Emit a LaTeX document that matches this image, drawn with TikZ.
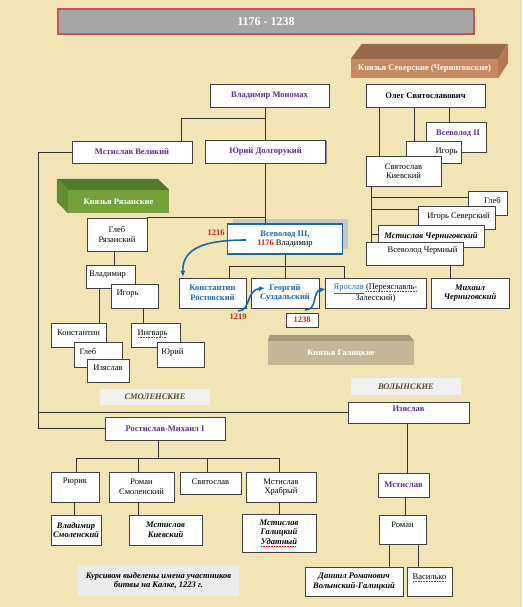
\documentclass[tikz,border=0pt]{standalone}
\usepackage{fontspec}
\setmainfont{Liberation Serif}
\usepackage{tikz}
\usetikzlibrary{shadows,arrows.meta}

\definecolor{bg}{RGB}{241,229,181}
\definecolor{purp}{RGB}{95,45,145}
\definecolor{blu}{RGB}{25,105,170}
\definecolor{red2}{RGB}{200,35,30}
\definecolor{olv}{RGB}{85,75,35}
\definecolor{ttl}{RGB}{195,85,75}
\definecolor{sevf}{RGB}{198,138,98}
\definecolor{sevt}{RGB}{150,105,75}
\definecolor{sevs}{RGB}{180,120,82}
\definecolor{ryzf}{RGB}{118,160,58}
\definecolor{ryzt}{RGB}{82,122,42}
\definecolor{ryzs}{RGB}{98,140,48}
\definecolor{galf}{RGB}{196,183,150}
\definecolor{galt}{RGB}{165,154,124}
\newcommand{\fsz}{\fontsize{8.5}{9.5}\selectfont}
\newsavebox{\wvbox}
\newcommand{\wv}[1]{\sbox\wvbox{#1}\rlap{\color{red}\raisebox{-1.8pt}{\hbox to \wd\wvbox{\leaders\hbox to 1.6pt{\hss\rule{0.8pt}{0.5pt}\hss}\hfill}}}\usebox\wvbox}

\begin{document}
\begin{tikzpicture}[x=1pt,y=-1pt,
  wh/.style 2 args={minimum width=#1pt,minimum height=#2pt},
  plain/.style={draw=black!75,fill=white,line width=0.6pt,inner sep=1pt,align=center,font=\fsz},
  box/.style={plain,drop shadow={shadow xshift=1pt,shadow yshift=-1pt,fill=black!45,opacity=1}},
  tl/.style={font=\fsz,inner sep=0pt,anchor=north,yshift=-6.5pt},
  pb/.style={font=\fsz\bfseries,text=purp},
  bb/.style={font=\fsz\bfseries,text=blu},
  bi/.style={font=\fsz\bfseries\itshape},
  yr/.style={font=\fsz\bfseries,text=red2},
  tag/.style={fill=black!6,font=\fsz\bfseries\itshape,text=olv},
  slab/.style={text=white,font=\fsz\bfseries,inner sep=0pt},
  ln/.style={draw=black!80,line width=0.8pt},
  arr/.style={-{Latex[length=6pt,width=5pt]},draw=blu,line width=1.6pt}]

    \fill[bg] (0,0) rectangle (522,607);
    \useasboundingbox (0,0) rectangle (522,607);

    \node[fill=black!35,draw=ttl,line width=1.2pt,wh={416}{25},text=white,font=\fontsize{12}{14}\selectfont\bfseries] (0) at (266,21.5) {1176 - 1238};

    % 3d headers
    \node[slab,fill=sevf,wh={147}{19}] (44) at (424.5,68.5) {Князья Северские (Черниговские)};
    \fill[sevt] (44.north west) -- ++(11,-15) -- ++(146,0) -- (44.north east) -- cycle;
    \fill[sevs] (44.north east) -- ++(10,-15) -- ++(0,19) -- (44.south east) -- cycle;
    \node[slab,fill=ryzf,wh={101}{23}] (45) at (118.5,201.5) {Князья Рязанские};
    \fill[ryzt] (45.north west) -- ++(-11,-11) -- ++(101,0) -- (45.north east) -- cycle;
    \fill[ryzs] (45.north west) -- ++(-11,-11) -- ++(0,23) -- (45.south west) -- cycle;
    \node[slab,fill=galf,wh={146}{24}] (46) at (341,353) {Князья Галицкие};
    \fill[galt] (46.north west) -- ++(2,-6) -- ++(139,0) -- (46.north east) -- cycle;

    \node[box,wh={119}{23},pb] (1) at (269.5,95.5) {Владимир Мономах};
    \node[box,wh={119}{23},font=\fsz\bfseries] (2) at (425.5,95.5) {Олег Святославович};
    \node[box,wh={120}{22},pb] (3) at (132,152) {Мстислав Великий};
    \node[box,wh={120}{23},pb] (4) at (265.5,151.5) {Юрий Долгорукий};

    \node[box,wh={60}{30},label={[tl,pb,xshift=2pt,yshift=-1.5pt]north:Всеволод II}] (5) at (456,137) {};
    \node[box,wh={55}{22},label={[tl,xshift=13pt,yshift=-1pt]north:Игорь}] (6) at (433.5,152) {};
    \node[box,wh={75}{30}] (7) at (403.5,171) {Святослав\\Киевский};
    \node[box,wh={39}{24},label={[tl,xshift=5pt]north:Глеб}] (8) at (487.5,203) {};
    \node[box,wh={77}{23},label={[tl,xshift=2pt]north:Игорь Северский}] (9) at (456.5,217.5) {};
    \node[box,wh={106}{22},label={[tl,bi,yshift=-1pt]north:Мстислав Черниговский}] (10) at (431,236) {};
    \node[box,wh={97}{23},label={[tl,xshift=8pt,yshift=1.5pt]north:Всеволод Чермный}] (11) at (414.5,253.5) {};
    \node[box,wh={78}{30},bi] (12) at (470,293) {Михаил\\Черниговский};

    \node[plain,wh={115}{30},draw=blu,line width=1.8pt,drop shadow={shadow xshift=5pt,shadow yshift=5pt,fill=black!22,opacity=1}] (13) at (285,239) {\textcolor{blu}{\textbf{Всеволод III,}}\\\textcolor{red2}{\textbf{1176}} Владимир};
    \node[box,wh={67}{30},bb] (14) at (212.5,293) {Константин\\Ростовский};
    \node[box,wh={68}{30},bb] (15) at (285,293) {Георгий\\Суздальский};
    \node[box,wh={101}{30}] (16) at (375.5,293) {\textcolor{blu}{\underline{Ярослав}} \wv{(Переяславль-}\\Залесский)};
    \node[box,wh={32}{14},font=\fsz\bfseries,text=red2,inner sep=0pt] (17) at (302,320) {1238};

    \node[box,wh={60}{33}] (18) at (117,234.5) {Глеб\\Рязанский};
    \node[box,wh={49}{23},label={[tl,xshift=-3pt]north:Владимир}] (19) at (110.5,276.5) {};
    \node[box,wh={47}{24},label={[tl,xshift=-7pt]north:Игорь}] (20) at (134.5,296) {};
    \node[box,wh={55}{24},label={[tl,yshift=-1pt]north:Константин}] (21) at (78.5,335) {};
    \node[box,wh={48}{25},label={[tl,xshift=-10pt]north:Глеб}] (22) at (98,354.5) {};
    \node[box,wh={42}{23},label={[tl]north:Изяслав}] (23) at (108,370.5) {};
    \node[box,wh={49}{24},label={[tl,xshift=-3pt,yshift=-1pt]north:\wv{Ингварь}}] (24) at (155.5,335) {};
    \node[box,wh={47}{25},label={[tl,xshift=-8pt]north:Юрий}] (25) at (180.5,354.5) {};

    \node[tag,wh={110}{16}] (39) at (155,397) {СМОЛЕНСКИЕ};
    \node[tag,wh={110}{17}] (40) at (406,386.5) {ВОЛЫНСКИЕ};
    \node[box,wh={121}{21},label={[tl,pb,yshift=2pt]north:Изяслав}] (26) at (408.5,412.5) {};
    \node[box,wh={120}{23},pb] (27) at (165,428.5) {Ростислав-Михаил I};

    \node[box,wh={48}{30},label={[tl]north:Рюрик}] (28) at (75,487) {};
    \node[box,wh={65}{30}] (29) at (141.5,487) {Роман\\Смоленский};
    \node[box,wh={61}{22},label={[tl]north:Святослав}] (30) at (210.5,483) {};
    \node[box,wh={70}{30}] (31) at (281,487) {Мстислав\\Храбрый};
    \node[box,wh={50}{30},bi] (32) at (76,530) {Владимир\\Смоленский};
    \node[box,wh={73}{30},bi] (33) at (165.5,530) {Мстислав\\Киевский};
    \node[box,wh={74}{38},bi] (34) at (279,533) {Мстислав\\Галицкий\\\wv{Удатный}};

    \node[box,wh={51}{24},pb] (35) at (403.5,485) {Мстислав};
    \node[box,wh={47}{29},label={[tl,yshift=-1pt]north:Роман}] (36) at (402.5,529.5) {};
    \node[box,wh={98}{29},bi] (37) at (354,581.5) {Даниил Романович\\Волынский-Галицкий};
    \node[box,wh={45}{29},label={[tl,yshift=-1pt]north:\wv{Василько}}] (38) at (429.5,581.5) {};

    \node[fill=black!8,wh={161}{31},align=center,font=\fsz\bfseries\itshape] (41) at (158.5,580.5) {Курсивом выделены имена участников\\битвы на Калке, 1223 г.};
    \node[yr] (42) at (216,233) {1216};
    \node[yr] (43) at (238,317) {1219};

    % junctions
    \coordinate (c0) at (38,152);
    \coordinate (c1) at (181,118);
    \coordinate (c2) at (379,107);
    \coordinate (c3) at (414,107);
    \coordinate (c4) at (449,107);
    \coordinate (c5) at (371,186);
    \coordinate (c6) at (371,197);
    \coordinate (c7) at (371,209);
    \coordinate (c8) at (371,234);
    \coordinate (c9) at (450,265);
    \coordinate (c10) at (114,251);
    \coordinate (c11) at (99,288);
    \coordinate (c12) at (143,308);
    \coordinate (c13) at (229,266);
    \coordinate (c14) at (344,266);
    \coordinate (c15) at (158,458);
    \coordinate (c16) at (76,458);
    \coordinate (c17) at (138,458);
    \coordinate (c18) at (207,458);
    \coordinate (c19) at (279,458);
    \coordinate (c20) at (74,502);
    \coordinate (c21) at (138,502);
    \coordinate (c22) at (279,502);
    \coordinate (c23) at (407,423);
    \coordinate (c24) at (405,497);
    \coordinate (c25) at (389,544);
    \coordinate (c26) at (418,544);

    \draw[ln] (4.north |- 1.south) -- (4.north);
    \draw[ln] (4.north |- c1) -- (c1) -- (c1 |- 3.north);
    \draw[ln] (3.west) -- (c0) -- (c0 |- 27.west) -- (27.west);
    \draw[ln] (26.west) -- (26.west -| c0);
    \draw[ln] (4.south) -- (4.south |- 13.north);
    \draw[ln] (18.north east) -- (18.north east -| 4.south);

    \draw[ln] (c2) -- (c2 |- 7.north);
    \draw[ln] (c3) -- (c3 |- 6.north);
    \draw[ln] (c4) -- (c4 |- 5.north);
    \draw[ln] (c5) -- (c5 |- 11.north);
    \draw[ln] (c6) -- (c6 -| 8.west);
    \draw[ln] (c7) -- (c7 -| 9.west);
    \draw[ln] (c8) -- (c8 -| 10.west);
    \draw[ln] (c9) -- (c9 |- 12.north);

    \draw[ln] (13.south) -- (15.north);
    \draw[ln] (c13 |- 14.north) -- (c13) -- (c14) -- (c14 |- 16.north);

    \draw[ln] (c10) -- (c10 |- 19.north);
    \draw[ln] (c11) -- (c11 |- 21.north);
    \draw[ln] (c12) -- (c12 |- 24.north);

    \draw[ln] (c15 |- 27.south) -- (c15);
    \draw[ln] (c16 |- 28.north) -- (c16) -- (c19) -- (c19 |- 31.north);
    \draw[ln] (c17) -- (c17 |- 29.north);
    \draw[ln] (c18) -- (c18 |- 30.north);
    \draw[ln] (c20) -- (c20 |- 32.north);
    \draw[ln] (c21) -- (c21 |- 33.north);
    \draw[ln] (c22) -- (c22 |- 34.north);

    \draw[ln] (c23) -- (c23 |- 35.north);
    \draw[ln] (c24) -- (c24 |- 36.north);
    \draw[ln] (c25) -- (c25 |- 37.north);
    \draw[ln] (c26) -- (c26 |- 38.north);

    % succession arrows
    \coordinate (a1) at (246,240);
    \coordinate (a2) at (183,277);
    \coordinate (a3) at (238,311);
    \coordinate (a4) at (265,288);
    \coordinate (a5) at (305,310);
    \coordinate (a6) at (326,289);
    \draw[arr] (a1) .. controls (205,240) and (182,248) .. (a2);
    \draw[arr] (a3) .. controls (251,311) and (246,290) .. (a4);
    \draw[arr] (a5) .. controls (318,310) and (312,291) .. (a6);

\end{tikzpicture}
\end{document}
